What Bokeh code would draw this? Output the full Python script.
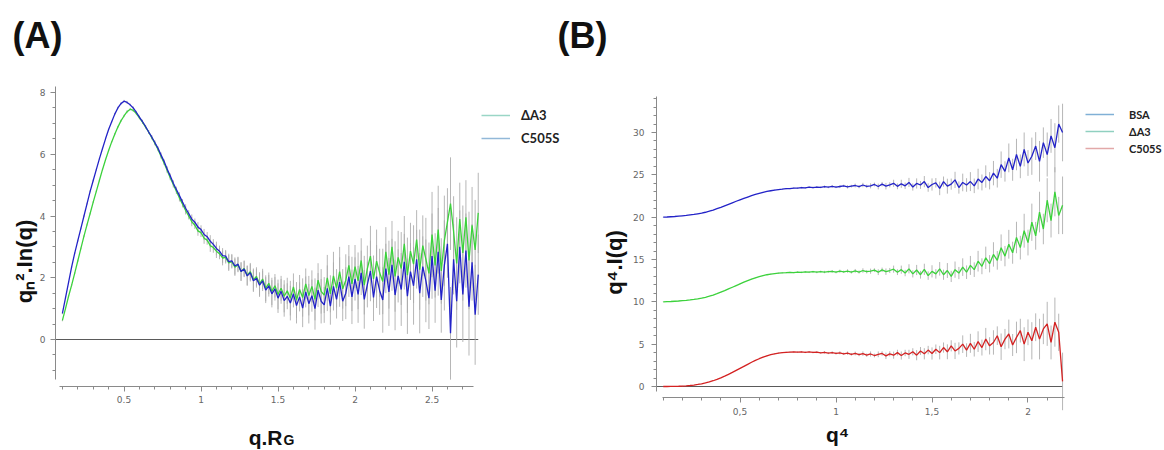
import numpy as np
from bokeh.plotting import figure
from bokeh.models import (Range1d, SingleIntervalTicker, Legend, LegendItem, LinearAxis,
                          Label, CustomJSTickFormatter, ColumnDataSource)
from bokeh.embed import file_html
from bokeh.resources import INLINE

# ---------------- Panel A data (q.Rg vs qn^2.In(q)) ----------------
a_x = [0.10, 0.12, 0.14, 0.16, 0.18, 0.20, 0.22, 0.24, 0.26, 0.28,
       0.30, 0.32, 0.34, 0.36, 0.38, 0.40, 0.42, 0.44, 0.46, 0.48,
       0.50, 0.52, 0.54, 0.56, 0.58, 0.60, 0.62, 0.64, 0.66, 0.68,
       0.70, 0.72, 0.74, 0.76, 0.78, 0.80, 0.82, 0.84, 0.86, 0.88,
       0.90, 0.92, 0.94, 0.96, 0.98, 1.00, 1.02, 1.04, 1.06, 1.08,
       1.10, 1.12, 1.14, 1.16, 1.18, 1.20, 1.22, 1.24, 1.26, 1.28,
       1.30, 1.32, 1.34, 1.36, 1.38, 1.40, 1.42, 1.44, 1.46, 1.48,
       1.50, 1.52, 1.54, 1.56, 1.58, 1.60, 1.62, 1.64, 1.66, 1.68,
       1.70, 1.72, 1.74, 1.76, 1.78, 1.80, 1.82, 1.84, 1.86, 1.88,
       1.90, 1.92, 1.94, 1.96, 1.98, 2.00, 2.02, 2.04, 2.06, 2.08,
       2.10, 2.12, 2.14, 2.16, 2.18, 2.20, 2.22, 2.24, 2.26, 2.28,
       2.30, 2.32, 2.34, 2.36, 2.38, 2.40, 2.42, 2.44, 2.46, 2.48,
       2.50, 2.52, 2.54, 2.56, 2.58, 2.60, 2.62, 2.64, 2.66, 2.68,
       2.70, 2.72, 2.74, 2.76, 2.78, 2.80]

a_c505s = [0.85, 1.35, 1.85, 2.35, 2.80, 3.20, 3.60, 4.00, 4.40, 4.80,
           5.15, 5.50, 5.85, 6.18, 6.50, 6.80, 7.05, 7.30, 7.50, 7.64,
           7.72, 7.68, 7.60, 7.50, 7.36, 7.20, 7.06, 6.90, 6.72, 6.56,
           6.38, 6.20, 5.98, 5.77, 5.52, 5.30, 5.06, 4.86, 4.66, 4.45,
           4.25, 4.08, 3.90, 3.80, 3.64, 3.56, 3.40, 3.33, 3.18, 3.08,
           2.95, 2.86, 2.72, 2.70, 2.52, 2.55, 2.38, 2.44, 2.20, 2.28,
           2.06, 2.16, 1.90, 1.98, 1.76, 1.90, 1.60, 1.74, 1.48, 1.64,
           1.34, 1.56, 1.26, 1.40, 1.18, 1.48, 1.10, 1.38, 1.02, 1.54,
           1.16, 1.42, 1.00, 1.60, 1.24, 1.12, 1.66, 1.08, 1.72, 1.30,
           1.86, 1.24, 1.50, 2.04, 1.38, 1.96, 1.46, 2.16, 1.30, 1.78,
           2.22, 1.36, 2.04, 1.58, 1.28, 2.30, 1.54, 2.42, 1.44, 2.06,
           1.62, 2.52, 1.40, 2.20, 1.74, 2.60, 1.50, 2.36, 1.90, 1.34,
           2.70, 1.58, 2.84, 1.28, 2.40, 3.10, 0.20, 2.60, 1.24, 3.00,
           1.46, 2.88, 1.06, 2.50, 0.80, 2.10]

a_da3 = [0.62, 1.00, 1.40, 1.76, 2.15, 2.55, 2.95, 3.35, 3.72, 4.08,
         4.45, 4.80, 5.15, 5.50, 5.82, 6.12, 6.40, 6.65, 6.88, 7.08,
         7.24, 7.38, 7.46, 7.42, 7.32, 7.18, 7.04, 6.88, 6.72, 6.54,
         6.36, 6.16, 5.94, 5.72, 5.48, 5.24, 5.02, 4.80, 4.58, 4.38,
         4.18, 4.00, 3.82, 3.70, 3.52, 3.46, 3.28, 3.22, 3.04, 2.98,
         2.86, 2.78, 2.64, 2.66, 2.48, 2.52, 2.34, 2.42, 2.20, 2.30,
         2.08, 2.20, 1.94, 2.04, 1.80, 1.96, 1.66, 1.82, 1.56, 1.74,
         1.46, 1.66, 1.40, 1.58, 1.34, 1.70, 1.28, 1.62, 1.36, 1.80,
         1.42, 1.72, 1.30, 1.92, 1.56, 1.44, 2.00, 1.48, 2.06, 1.66,
         2.20, 1.64, 1.92, 2.40, 1.80, 2.36, 1.90, 2.56, 1.76, 2.30,
         2.70, 1.96, 2.54, 2.16, 1.88, 2.84, 2.10, 3.00, 2.04, 2.66,
         2.30, 3.10, 2.08, 2.86, 2.44, 3.24, 2.26, 3.04, 2.60, 2.14,
         3.40, 2.40, 3.56, 2.22, 3.20, 3.80, 4.40, 3.50, 2.46, 3.90,
         2.80, 3.96, 2.56, 3.70, 2.90, 4.10]

a_err = [0.03, 0.03, 0.03, 0.03, 0.03, 0.03, 0.03, 0.03, 0.03, 0.03,
         0.03, 0.03, 0.03, 0.03, 0.03, 0.03, 0.03, 0.04, 0.04, 0.04,
         0.04, 0.05, 0.04, 0.05, 0.05, 0.05, 0.06, 0.05, 0.06, 0.06,
         0.07, 0.06, 0.08, 0.07, 0.09, 0.08, 0.10, 0.09, 0.11, 0.10,
         0.13, 0.11, 0.15, 0.12, 0.16, 0.14, 0.18, 0.15, 0.20, 0.17,
         0.22, 0.18, 0.24, 0.20, 0.26, 0.22, 0.28, 0.24, 0.30, 0.26,
         0.32, 0.28, 0.36, 0.30, 0.38, 0.33, 0.42, 0.35, 0.44, 0.38,
         0.48, 0.40, 0.52, 0.42, 0.56, 0.44, 0.58, 0.47, 0.62, 0.50,
         0.64, 0.52, 0.68, 0.55, 0.72, 0.58, 0.74, 0.60, 0.78, 0.62,
         0.80, 0.64, 0.84, 0.66, 0.88, 0.70, 0.92, 0.72, 0.95, 0.74,
         0.98, 0.76, 1.02, 0.78, 1.06, 0.80, 1.10, 0.84, 1.14, 0.86,
         1.18, 0.90, 1.22, 0.92, 1.26, 0.95, 1.30, 0.98, 1.34, 1.00,
         1.38, 1.04, 1.42, 1.06, 1.46, 1.10, 1.50, 1.14, 1.50, 1.18,
         1.54, 1.20, 1.58, 1.24, 1.62, 1.30]

a_legend = ["\u0394A3", "C505S"]

# ---------------- Panel B data (q^4 vs q^4.I(q)) ----------------
b_x = [0.10, 0.12, 0.14, 0.16, 0.18, 0.20, 0.22, 0.24, 0.26, 0.28,
       0.30, 0.32, 0.34, 0.36, 0.38, 0.40, 0.42, 0.44, 0.46, 0.48,
       0.50, 0.52, 0.54, 0.56, 0.58, 0.60, 0.62, 0.64, 0.66, 0.68,
       0.70, 0.72, 0.74, 0.76, 0.78, 0.80, 0.82, 0.84, 0.86, 0.88,
       0.90, 0.92, 0.94, 0.96, 0.98, 1.00, 1.02, 1.04, 1.06, 1.08,
       1.10, 1.12, 1.14, 1.16, 1.18, 1.20, 1.22, 1.24, 1.26, 1.28,
       1.30, 1.32, 1.34, 1.36, 1.38, 1.40, 1.42, 1.44, 1.46, 1.48,
       1.50, 1.52, 1.54, 1.56, 1.58, 1.60, 1.62, 1.64, 1.66, 1.68,
       1.70, 1.72, 1.74, 1.76, 1.78, 1.80, 1.82, 1.84, 1.86, 1.88,
       1.90, 1.92, 1.94, 1.96, 1.98, 2.00, 2.02, 2.04, 2.06, 2.08,
       2.10, 2.12, 2.14, 2.16, 2.18]

b_bsa = [20.00, 20.02, 20.05, 20.08, 20.12, 20.16, 20.20, 20.26, 20.32, 20.40,
         20.48, 20.58, 20.70, 20.84, 21.00, 21.16, 21.34, 21.52, 21.70, 21.88,
         22.05, 22.22, 22.38, 22.54, 22.68, 22.82, 22.94, 23.04, 23.12, 23.20,
         23.26, 23.30, 23.36, 23.38, 23.44, 23.42, 23.50, 23.46, 23.54, 23.50,
         23.56, 23.52, 23.60, 23.54, 23.64, 23.56, 23.62, 23.70, 23.58, 23.66,
         23.74, 23.60, 23.80, 23.64, 23.70, 23.86, 23.62, 23.90, 23.66, 23.82,
         24.00, 23.64, 23.94, 23.70, 24.10, 23.56, 23.98, 23.80, 24.20, 23.50,
         23.86, 24.06, 23.40, 24.20, 23.66, 23.90, 24.40, 23.50, 24.10, 23.80,
         24.20, 23.70, 24.50, 24.10, 24.80, 24.30, 25.20, 24.60, 26.20, 25.40,
         27.00, 25.60, 27.40, 26.00, 28.00, 26.40, 27.20, 28.40, 26.60, 28.80,
         27.40, 29.60, 28.20, 31.00, 30.00]

b_da3 = [10.00, 10.02, 10.04, 10.07, 10.10, 10.14, 10.18, 10.23, 10.29, 10.36,
         10.44, 10.54, 10.66, 10.80, 10.96, 11.14, 11.32, 11.52, 11.72, 11.92,
         12.12, 12.32, 12.50, 12.68, 12.84, 12.98, 13.10, 13.20, 13.28, 13.34,
         13.38, 13.42, 13.44, 13.48, 13.46, 13.52, 13.48, 13.54, 13.50, 13.56,
         13.50, 13.58, 13.52, 13.56, 13.60, 13.50, 13.62, 13.54, 13.64, 13.50,
         13.66, 13.52, 13.70, 13.56, 13.62, 13.74, 13.50, 13.78, 13.56, 13.70,
         13.86, 13.50, 13.80, 13.40, 13.90, 13.30, 13.76, 13.20, 13.84, 13.10,
         13.60, 13.30, 13.90, 13.20, 13.70, 13.00, 13.80, 13.40, 14.10, 13.50,
         14.30, 13.80, 14.80, 14.20, 15.20, 14.50, 15.60, 14.90, 16.40, 15.40,
         16.80, 15.80, 17.60, 16.40, 18.40, 17.00, 19.40, 17.80, 20.60, 18.60,
         22.00, 19.60, 23.00, 20.20, 21.40]

b_c505s = [0.00, 0.00, 0.01, 0.02, 0.03, 0.05, 0.08, 0.12, 0.17, 0.24,
           0.32, 0.42, 0.54, 0.68, 0.84, 1.02, 1.22, 1.44, 1.66, 1.90,
           2.14, 2.38, 2.62, 2.86, 3.08, 3.28, 3.46, 3.62, 3.76, 3.86,
           3.94, 4.00, 4.04, 4.06, 4.08, 4.06, 4.10, 4.04, 4.08, 4.02,
           4.06, 3.98, 4.04, 3.94, 4.00, 3.90, 3.98, 3.86, 3.94, 3.80,
           3.90, 3.76, 3.88, 3.70, 3.84, 3.66, 3.80, 3.90, 3.62, 3.86,
           3.70, 4.00, 3.66, 3.96, 3.80, 4.10, 3.70, 4.20, 3.86, 4.30,
           3.90, 4.40, 4.00, 4.60, 4.10, 4.80, 4.20, 4.50, 5.00, 4.30,
           5.10, 4.40, 5.30, 4.60, 5.60, 4.80, 5.20, 6.00, 4.70, 5.60,
           6.20, 4.90, 5.80, 6.60, 5.00, 6.40, 5.40, 7.00, 5.60, 6.80,
           7.40, 5.20, 7.60, 6.40, 0.60]

b_err = [0.02, 0.02, 0.02, 0.02, 0.02, 0.02, 0.02, 0.02, 0.02, 0.02,
         0.02, 0.02, 0.02, 0.02, 0.02, 0.02, 0.02, 0.02, 0.02, 0.02,
         0.03, 0.03, 0.03, 0.03, 0.04, 0.04, 0.04, 0.05, 0.05, 0.05,
         0.06, 0.06, 0.07, 0.07, 0.08, 0.08, 0.09, 0.09, 0.10, 0.10,
         0.12, 0.10, 0.14, 0.12, 0.16, 0.13, 0.18, 0.14, 0.20, 0.16,
         0.22, 0.18, 0.26, 0.20, 0.30, 0.22, 0.34, 0.26, 0.38, 0.30,
         0.42, 0.34, 0.48, 0.38, 0.54, 0.42, 0.60, 0.46, 0.66, 0.50,
         0.72, 0.56, 0.80, 0.60, 0.88, 0.66, 0.96, 0.72, 1.04, 0.80,
         1.12, 0.86, 1.22, 0.94, 1.32, 1.02, 1.44, 1.10, 1.56, 1.20,
         1.70, 1.30, 1.86, 1.40, 2.00, 1.52, 2.20, 1.64, 2.40, 1.80,
         2.60, 2.00, 2.90, 2.20, 3.40]

b_legend = ["BSA", "\u0394A3", "C505S"]

# ---------------- styling / layout constants ----------------
BLUE = "#2323c8"
GREEN = "#3cd23c"
RED = "#d42222"
GRAY = "#a9a9a9"
AXIS = "#8a8a8a"
TICKLBL = "#666666"
TITLE_FONT = "Liberation Sans"

W, H = 1164, 450
# panel A scales (default ranges)
A_XR = (-0.302, 7.256)
A_YR = (-3.595, 10.980)
A_XAXIS_AT, A_YAXIS_AT = -1.522, 0.055
# panel B scales (extra ranges)
B_XR = (-3.352, 2.711)
B_YR = (-7.559, 45.59)
B_XAXIS_AT, B_YAXIS_AT = -1.30, 0.065

p = figure(width=W, height=H, x_range=Range1d(*A_XR), y_range=Range1d(*A_YR),
           output_backend="svg", toolbar_location=None, min_border=0)
p.extra_x_ranges = {"bx": Range1d(*B_XR)}
p.extra_y_ranges = {"by": Range1d(*B_YR)}
p.outline_line_color = None
p.xgrid.grid_line_color = None
p.ygrid.grid_line_color = None
p.background_fill_color = "white"


def style_axis(ax, standoff=5):
    ax.axis_line_color = AXIS
    ax.major_tick_line_color = AXIS
    ax.minor_tick_line_color = AXIS
    ax.major_tick_in = 0
    ax.major_tick_out = 5
    ax.minor_tick_in = 0
    ax.minor_tick_out = 3
    ax.major_label_text_font = "DejaVu Sans"
    ax.major_label_text_font_size = "9px"
    ax.major_label_text_color = TICKLBL
    ax.major_label_standoff = standoff


# panel A axes
axA_x = p.xaxis[0]
axA_y = p.yaxis[0]
for ax in (axA_x, axA_y):
    style_axis(ax)
axA_x.fixed_location = A_XAXIS_AT
axA_y.fixed_location = A_YAXIS_AT
axA_x.ticker = SingleIntervalTicker(interval=0.5, num_minor_ticks=5)
axA_y.ticker = SingleIntervalTicker(interval=2, num_minor_ticks=4)
axA_x.formatter = CustomJSTickFormatter(code="return String(Math.round(tick*10)/10);")
axA_y.formatter = CustomJSTickFormatter(code="return String(Math.round(tick));")
axA_x.bounds = (0.083, 2.77)
axA_y.bounds = (-1.3, 8.2)

# panel B axes
axB_x = LinearAxis(x_range_name="bx", y_range_name="by", fixed_location=B_XAXIS_AT)
axB_y = LinearAxis(x_range_name="bx", y_range_name="by", fixed_location=B_YAXIS_AT)
style_axis(axB_x)
style_axis(axB_y, standoff=7)
axB_x.ticker = SingleIntervalTicker(interval=0.5, num_minor_ticks=5)
axB_y.ticker = SingleIntervalTicker(interval=5, num_minor_ticks=5)
axB_x.formatter = CustomJSTickFormatter(
    code="return String(Math.round(tick*10)/10).replace('.', ',');")
axB_y.formatter = CustomJSTickFormatter(code="return String(Math.round(tick));")
axB_x.bounds = (0.094, 2.19)
axB_y.bounds = (-0.6, 34.3)
p.add_layout(axB_x, "below")
p.add_layout(axB_y, "left")


def add_err(xs, ys, errs, **rng):
    x = np.array(xs)
    y = np.array(ys)
    e = np.array(errs)
    src = ColumnDataSource(dict(x=x, lo=y - e, hi=y + e))
    p.segment(x0="x", y0="lo", x1="x", y1="hi", source=src, line_color=GRAY,
              line_width=1, line_alpha=0.85, **rng)


def txt(x, y, text, size, align="left", angle=0.0):
    p.add_layout(Label(x=x, y=y, x_units="screen", y_units="screen", text=text,
                       angle=angle, text_align=align, text_baseline="middle",
                       text_font=TITLE_FONT, text_font_style="bold",
                       text_font_size=size, text_color="#111111"))


def legend_key(color, **rng):
    # a key-only line (no visible data) so the legend can show the pale key colour
    return p.line([np.nan, np.nan], [np.nan, np.nan], line_color=color,
                  line_width=1.5, **rng)


# ---------------- Panel A glyphs ----------------
p.line([A_YAXIS_AT, a_x[-1]], [0, 0], line_color="#5a5a5a", line_width=1.2)
add_err(a_x, a_da3, a_err)
add_err(a_x, a_c505s, a_err)
p.line(a_x, a_da3, line_color=GREEN, line_width=1.3)
p.line(a_x, a_c505s, line_color=BLUE, line_width=1.3)

la1 = legend_key("#9ad6c6")
la2 = legend_key("#92b8d8")
legA = Legend(items=[LegendItem(label=a_legend[0], renderers=[la1]),
                     LegendItem(label=a_legend[1], renderers=[la2])],
              location=(481, 302), padding=0, margin=0, spacing=3,
              glyph_width=29, glyph_height=20, label_height=20, label_standoff=11,
              border_line_color=None, background_fill_alpha=0,
              label_text_font="Lato", label_text_font_style="bold",
              label_text_font_size="13px", label_text_color="#222222")
p.add_layout(legA, "center")

txt(12, 415, "(A)", "36px")
txt(24, 189, "q\u2099\u00b2.In(q)", "22px", align="center", angle=np.pi / 2)
txt(282, 13, "q.R", "21px", align="right")
txt(283, 11, "G", "14px", align="left")

# ---------------- Panel B glyphs ----------------
RB = dict(x_range_name="bx", y_range_name="by")
p.line([B_YAXIS_AT, b_x[-1]], [0, 0], line_color="#5a5a5a", line_width=1.2, **RB)
add_err(b_x, b_bsa, b_err, **RB)
add_err(b_x, b_da3, b_err, **RB)
add_err(b_x, b_c505s, b_err, **RB)
p.line(b_x, b_bsa, line_color=BLUE, line_width=1.3, **RB)
p.line(b_x, b_da3, line_color=GREEN, line_width=1.3, **RB)
p.line(b_x, b_c505s, line_color=RED, line_width=1.3, **RB)

lb1 = legend_key("#80b0d6", **RB)
lb2 = legend_key("#90d0c0", **RB)
lb3 = legend_key("#e2a8a8", **RB)
legB = Legend(items=[LegendItem(label=b_legend[0], renderers=[lb1]),
                     LegendItem(label=b_legend[1], renderers=[lb2]),
                     LegendItem(label=b_legend[2], renderers=[lb3])],
              location=(1085, 294), padding=0, margin=0, spacing=1,
              glyph_width=29, glyph_height=16, label_height=16, label_standoff=15,
              border_line_color=None, background_fill_alpha=0,
              label_text_font="Lato", label_text_font_style="bold",
              label_text_font_size="11px", label_text_color="#222222")
p.add_layout(legB, "center")

txt(557, 415, "(B)", "36px")
txt(614, 188, "q\u2074.I(q)", "22px", align="center", angle=np.pi / 2)
txt(837, 16, "q\u2074", "21px", align="center")

open("out.html", "w").write(file_html(p, INLINE))
